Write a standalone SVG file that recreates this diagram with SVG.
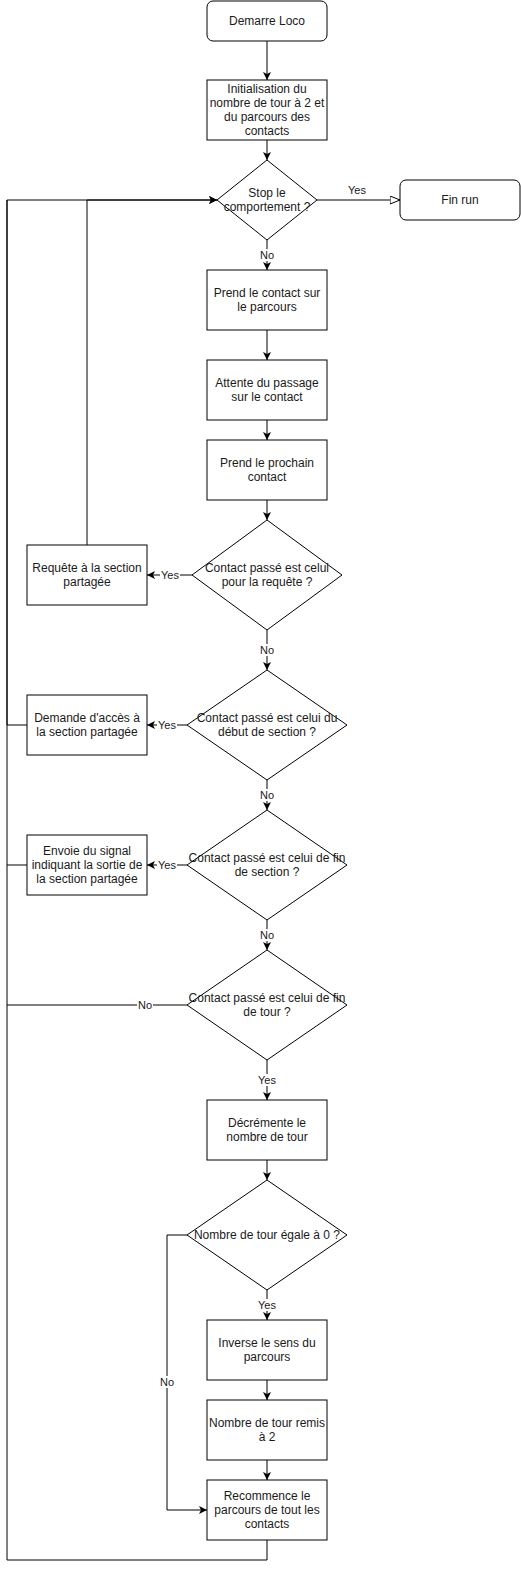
<svg xmlns="http://www.w3.org/2000/svg" width="521" height="1570" viewBox="0 0 521 1570">
<style>
.n{fill:#fff;stroke:#000;stroke-width:1}
.t{font-family:"Liberation Sans",Arial,sans-serif;font-size:12px;fill:#1a1a1a;text-anchor:middle}
.l{font-family:"Liberation Sans",Arial,sans-serif;font-size:11px;fill:#1a1a1a;text-anchor:middle}
.e{fill:none;stroke:#000;stroke-width:1}
.bg{fill:#fff}
</style>
<defs>
<marker id="a" viewBox="0 0 8 8" refX="8" refY="4" markerWidth="8" markerHeight="8" markerUnits="userSpaceOnUse" orient="auto">
<path d="M0,0 L8,4 L0,8 L2,4 Z" fill="#000"/>
</marker>
<marker id="o" viewBox="0 0 11 9" refX="10.5" refY="4.5" markerWidth="11" markerHeight="9" markerUnits="userSpaceOnUse" orient="auto">
<path d="M0.5,0.5 L10.5,4.5 L0.5,8.5 Z" fill="#fff" stroke="#000"/>
</marker>
</defs>
<rect width="521" height="1570" fill="#fff"/>
<g id="edges">
<path class="e" d="M267,41 V80" marker-end="url(#a)"/>
<path class="e" d="M267,140 V160" marker-end="url(#a)"/>
<path class="e" d="M317,200 H400" marker-end="url(#o)"/>
<path class="e" d="M267,240 V270" marker-end="url(#a)"/>
<path class="e" d="M267,330 V360" marker-end="url(#a)"/>
<path class="e" d="M267,420 V440" marker-end="url(#a)"/>
<path class="e" d="M267,500 V520" marker-end="url(#a)"/>
<path class="e" d="M192,575 H147" marker-end="url(#a)"/>
<path class="e" d="M87,545 V200 H217" marker-end="url(#a)"/>
<path class="e" d="M267,630 V670" marker-end="url(#a)"/>
<path class="e" d="M187,725 H147" marker-end="url(#a)"/>
<path class="e" d="M27,725 H7 V200 H217" marker-end="url(#a)"/>
<path class="e" d="M267,780 V810" marker-end="url(#a)"/>
<path class="e" d="M187,865 H147" marker-end="url(#a)"/>
<path class="e" d="M27,865 H7"/>
<path class="e" d="M267,920 V950" marker-end="url(#a)"/>
<path class="e" d="M187,1005 H7"/>
<path class="e" d="M267,1060 V1100" marker-end="url(#a)"/>
<path class="e" d="M267,1160 V1180" marker-end="url(#a)"/>
<path class="e" d="M267,1290 V1320" marker-end="url(#a)"/>
<path class="e" d="M267,1380 V1400" marker-end="url(#a)"/>
<path class="e" d="M267,1460 V1480" marker-end="url(#a)"/>
<path class="e" d="M187,1235 H167 V1510 H207" marker-end="url(#a)"/>
<path class="e" d="M267,1540 V1560 H7 V200"/>
<text class="l" x="357" y="194">Yes</text>
<rect class="bg" x="259" y="249" width="16" height="12"/>
<text class="l" x="267" y="259">No</text>
<rect class="bg" x="160" y="569" width="20" height="12"/>
<text class="l" x="170" y="579">Yes</text>
<rect class="bg" x="259" y="644" width="16" height="12"/>
<text class="l" x="267" y="654">No</text>
<rect class="bg" x="157" y="719" width="20" height="12"/>
<text class="l" x="167" y="729">Yes</text>
<rect class="bg" x="259" y="789" width="16" height="12"/>
<text class="l" x="267" y="799">No</text>
<rect class="bg" x="157" y="859" width="20" height="12"/>
<text class="l" x="167" y="869">Yes</text>
<rect class="bg" x="259" y="929" width="16" height="12"/>
<text class="l" x="267" y="939">No</text>
<rect class="bg" x="137" y="999" width="16" height="12"/>
<text class="l" x="145" y="1009">No</text>
<rect class="bg" x="257" y="1074" width="20" height="12"/>
<text class="l" x="267" y="1084">Yes</text>
<rect class="bg" x="257" y="1299" width="20" height="12"/>
<text class="l" x="267" y="1309">Yes</text>
<rect class="bg" x="159" y="1376" width="16" height="12"/>
<text class="l" x="167" y="1386">No</text>
</g>
<g id="start"><rect class="n" x="207" y="1" width="120" height="40" rx="6"/><text class="t" x="267" y="25">Demarre Loco</text></g>
<g id="init"><rect class="n" x="207" y="80" width="120" height="60"/><text class="t" x="267" y="93">Initialisation du<tspan x="267" dy="14">nombre de tour à 2 et</tspan><tspan x="267" dy="14">du parcours des</tspan><tspan x="267" dy="14">contacts</tspan></text></g>
<g id="stop"><polygon class="n" points="267,160 317,200 267,240 217,200"/><text class="t" x="267" y="197">Stop le<tspan x="267" dy="14">comportement ?</tspan></text></g>
<g id="fin"><rect class="n" x="400" y="180" width="120" height="40" rx="6"/><text class="t" x="460" y="204">Fin run</text></g>
<g id="prend"><rect class="n" x="207" y="270" width="120" height="60"/><text class="t" x="267" y="297">Prend le contact sur<tspan x="267" dy="14">le parcours</tspan></text></g>
<g id="attente"><rect class="n" x="207" y="360" width="120" height="60"/><text class="t" x="267" y="387">Attente du passage<tspan x="267" dy="14">sur le contact</tspan></text></g>
<g id="prochain"><rect class="n" x="207" y="440" width="120" height="60"/><text class="t" x="267" y="467">Prend le prochain<tspan x="267" dy="14">contact</tspan></text></g>
<g id="d1"><polygon class="n" points="267,520 342,575 267,630 192,575"/><text class="t" x="267" y="572">Contact passé est celui<tspan x="267" dy="14">pour la requête ?</tspan></text></g>
<g id="req"><rect class="n" x="27" y="545" width="120" height="60"/><text class="t" x="87" y="572">Requête à la section<tspan x="87" dy="14">partagée</tspan></text></g>
<g id="d2"><polygon class="n" points="267,670 347,725 267,780 187,725"/><text class="t" x="267" y="722">Contact passé est celui du<tspan x="267" dy="14">début de section ?</tspan></text></g>
<g id="dem"><rect class="n" x="27" y="695" width="120" height="60"/><text class="t" x="87" y="722">Demande d'accès à<tspan x="87" dy="14">la section partagée</tspan></text></g>
<g id="d3"><polygon class="n" points="267,810 347,865 267,920 187,865"/><text class="t" x="267" y="862">Contact passé est celui de fin<tspan x="267" dy="14">de section ?</tspan></text></g>
<g id="env"><rect class="n" x="27" y="835" width="120" height="60"/><text class="t" x="87" y="855">Envoie du signal<tspan x="87" dy="14">indiquant la sortie de</tspan><tspan x="87" dy="14">la section partagée</tspan></text></g>
<g id="d4"><polygon class="n" points="267,950 347,1005 267,1060 187,1005"/><text class="t" x="267" y="1002">Contact passé est celui de fin<tspan x="267" dy="14">de tour ?</tspan></text></g>
<g id="dec"><rect class="n" x="207" y="1100" width="120" height="60"/><text class="t" x="267" y="1127">Décrémente le<tspan x="267" dy="14">nombre de tour</tspan></text></g>
<g id="d5"><polygon class="n" points="267,1180 347,1235 267,1290 187,1235"/><text class="t" x="267" y="1239">Nombre de tour égale à 0 ?</text></g>
<g id="inv"><rect class="n" x="207" y="1320" width="120" height="60"/><text class="t" x="267" y="1347">Inverse le sens du<tspan x="267" dy="14">parcours</tspan></text></g>
<g id="remis"><rect class="n" x="207" y="1400" width="120" height="60"/><text class="t" x="267" y="1427">Nombre de tour remis<tspan x="267" dy="14">à 2</tspan></text></g>
<g id="rec"><rect class="n" x="207" y="1480" width="120" height="60"/><text class="t" x="267" y="1500">Recommence le<tspan x="267" dy="14">parcours de tout les</tspan><tspan x="267" dy="14">contacts</tspan></text></g>
</svg>
